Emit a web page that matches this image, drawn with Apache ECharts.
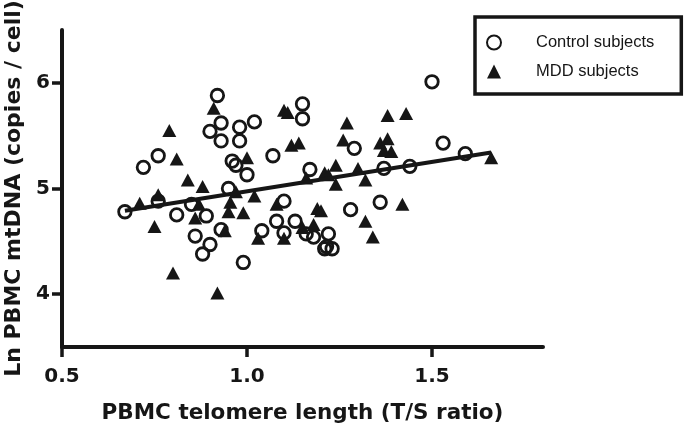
<!DOCTYPE html>
<html>
<head>
<meta charset="utf-8">
<script src="https://cdn.jsdelivr.net/npm/echarts@6/dist/echarts.min.js"></script>
<style>
html,body{margin:0;padding:0;background:#fff;}
#chart{width:685px;height:427px;}
</style>
</head>
<body>
<div id="chart"></div>
<script>
// ---- Data ----
const controlX = [1.50,0.92,0.90,0.93,0.93,0.98,0.98,1.02,1.15,1.15,0.76,0.72,0.96,0.97,1.07,1.29,1.37,1.44,1.53,1.59,1.17,1.00,0.95,1.10,1.28,1.36,0.67,0.76,0.81,0.85,0.89,0.86,0.90,0.88,0.93,0.99,1.04,1.08,1.13,1.16,1.10,1.22,1.21,1.23,1.18,1.215];
const controlY = [6.01,5.88,5.54,5.62,5.45,5.58,5.45,5.63,5.80,5.66,5.31,5.20,5.26,5.22,5.31,5.38,5.19,5.21,5.43,5.33,5.18,5.13,5.00,4.88,4.80,4.87,4.78,4.88,4.75,4.85,4.74,4.55,4.47,4.38,4.61,4.30,4.60,4.69,4.69,4.57,4.58,4.57,4.43,4.43,4.54,4.45];
const mddX = [0.91,0.79,0.81,0.84,0.88,0.76,0.71,0.75,0.80,0.92,0.86,0.95,0.94,0.99,0.87,1.00,0.97,1.02,1.08,1.03,1.10,1.10,1.11,1.12,1.14,1.16,1.21,1.19,1.18,1.15,1.27,1.26,1.24,1.22,1.24,1.30,1.32,1.20,1.32,1.34,1.38,1.43,1.36,1.38,1.39,1.42,1.66,0.955,1.37];
const mddY = [5.76,5.55,5.28,5.08,5.02,4.94,4.86,4.64,4.20,4.01,4.72,4.78,4.60,4.77,4.85,5.29,4.97,4.93,4.85,4.53,4.53,5.74,5.72,5.41,5.43,5.10,5.15,4.81,4.66,4.63,5.62,5.46,5.22,5.13,5.04,5.19,5.08,4.79,4.69,4.54,5.69,5.71,5.43,5.47,5.35,4.85,5.29,4.87,5.36];
const fitX = [0.67, 1.66];
const fitY = [4.79, 5.34];
const xTicks = [0.5, 1.0, 1.5];
const yTicks = [4, 5, 6];
const seriesNames = ['Control subjects', 'MDD subjects'];
const xTitle = 'PBMC telomere length (T/S ratio)';
const yTitle = 'Ln PBMC mtDNA (copies / cell)';

// ---- Build chart ----
const ink = '#161616';
const boldFont = 'DejaVu Sans, Verdana, sans-serif';
const font = 'Liberation Sans, Arial, Helvetica, sans-serif';
const zip = (a, b) => a.map((v, i) => [v, b[i]]);

const chart = echarts.init(document.getElementById('chart'), null, {renderer: 'canvas'});
chart.setOption({
  animation: false,
  backgroundColor: '#fff',
  grid: {left: 62, right: 142, top: 30, bottom: 80, containLabel: false, outerBoundsMode: 'none'},
  legend: {
    orient: 'vertical',
    left: 475, top: 17,
    data: seriesNames,
    borderColor: ink, borderWidth: 3.5, borderRadius: 0,
    padding: [17, 27, 14, 11],
    itemGap: 12,
    itemWidth: 14, itemHeight: 14,
    textStyle: {fontFamily: font, fontSize: 16.5, color: ink, padding: [0, 0, 0, 30]}
  },
  xAxis: {
    type: 'value', min: 0.5, max: 1.8,
    name: xTitle, nameLocation: 'middle', nameGap: 55,
    nameTextStyle: {fontFamily: boldFont, fontSize: 21.5, fontWeight: 'bold', color: ink},
    axisLine: {show: true, onZero: false, lineStyle: {color: ink, width: 4}},
    axisTick: {show: true, inside: false, customValues: xTicks, length: 10, lineStyle: {color: ink, width: 3.5}},
    axisLabel: {customValues: xTicks, formatter: v => v.toFixed(1), fontFamily: boldFont, fontSize: 20, fontWeight: 'bold', color: ink, margin: 20},
    splitLine: {show: false}
  },
  yAxis: {
    type: 'value', min: 3.5, max: 6.5,
    name: yTitle, nameLocation: 'middle', nameGap: 37,
    nameTextStyle: {fontFamily: boldFont, fontSize: 22, fontWeight: 'bold', color: ink},
    axisLine: {show: true, onZero: false, lineStyle: {color: ink, width: 4}},
    axisTick: {show: true, inside: false, customValues: yTicks, length: 10, lineStyle: {color: ink, width: 3.5}},
    axisLabel: {customValues: yTicks, formatter: v => String(Math.round(v)), fontFamily: boldFont, fontSize: 20, fontWeight: 'bold', color: ink, margin: 12},
    splitLine: {show: false}
  },
  series: [
    {
      name: seriesNames[0], type: 'scatter', symbol: 'circle', symbolSize: 12.5,
      data: zip(controlX, controlY),
      itemStyle: {color: 'rgba(255,255,255,0)', borderColor: ink, borderWidth: 2.8, opacity: 1},
      z: 2
    },
    {
      name: seriesNames[1], type: 'scatter', symbol: 'triangle', symbolSize: [14, 13],
      data: zip(mddX, mddY),
      itemStyle: {color: ink, opacity: 1},
      z: 3
    },
    {
      name: 'fit', type: 'line', data: zip(fitX, fitY), symbol: 'none',
      lineStyle: {color: ink, width: 4}, z: 4, silent: true
    }
  ]
});
</script>
</body>
</html>
